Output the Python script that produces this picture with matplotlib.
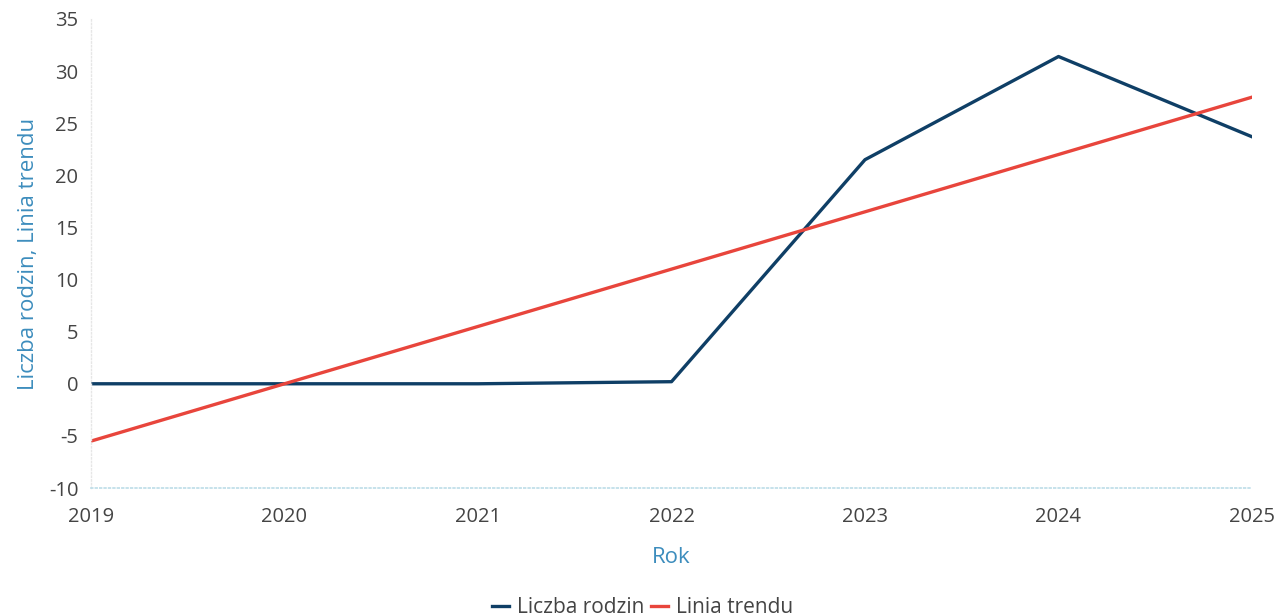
import matplotlib
matplotlib.use("Agg")
import matplotlib.pyplot as plt

years = [2019, 2020, 2021, 2022, 2023, 2024, 2025]
liczba_rodzin = [0.0, 0.0, 0.0, 0.2, 21.5, 31.4, 23.7]
linia_trendu = [-5.5, 0.0, 5.5, 11.0, 16.5, 22.0, 27.5]
y_ticks = [-10, -5, 0, 5, 10, 15, 20, 25, 30, 35]

plt.rcParams['font.family'] = ['Open Sans', 'DejaVu Sans']

fig = plt.figure(figsize=(12.78, 6.16), dpi=100)
ax = fig.add_axes([91/1278, 1 - 488/616, (1252 - 91)/1278, (488 - 19)/616])

ax.plot(years, liczba_rodzin, color='#0f3f66', lw=2.4, label='Liczba rodzin')
ax.plot(years, linia_trendu, color='#e8453c', lw=2.4, label='Linia trendu')

ax.set_xlim(2019, 2025)
ax.set_ylim(-10, 35)
ax.set_yticks(y_ticks)
ax.set_yticklabels([str(v) for v in y_ticks])
ax.set_xticks(years)
ax.set_xticklabels([str(y) for y in years])

for s in ['top', 'right']:
    ax.spines[s].set_visible(False)
ax.spines['left'].set_color('#e6e6e6')
ax.spines['left'].set_linestyle(':')
ax.spines['left'].set_linewidth(1.0)
ax.spines['bottom'].set_color('#bcdde8')
ax.spines['bottom'].set_linestyle(':')
ax.spines['bottom'].set_linewidth(1.2)

ax.tick_params(axis='both', length=0, labelsize=14.5, colors='#444444')
ax.tick_params(axis='y', pad=9)
ax.tick_params(axis='x', pad=14)

ax.set_xlabel('Rok', color='#3d8dbd', fontsize=16, labelpad=14)
ax.set_ylabel('Liczba rodzin, Linia trendu', color='#3d8dbd', fontsize=16, labelpad=7)

leg = fig.legend(loc='lower center', bbox_to_anchor=(0.503, -0.034), ncol=2, frameon=False,
                 fontsize=15, handlelength=0.8, handletextpad=0.4, columnspacing=0.3,
                 labelcolor='#444444')

fig.savefig('out.png', dpi=100)
